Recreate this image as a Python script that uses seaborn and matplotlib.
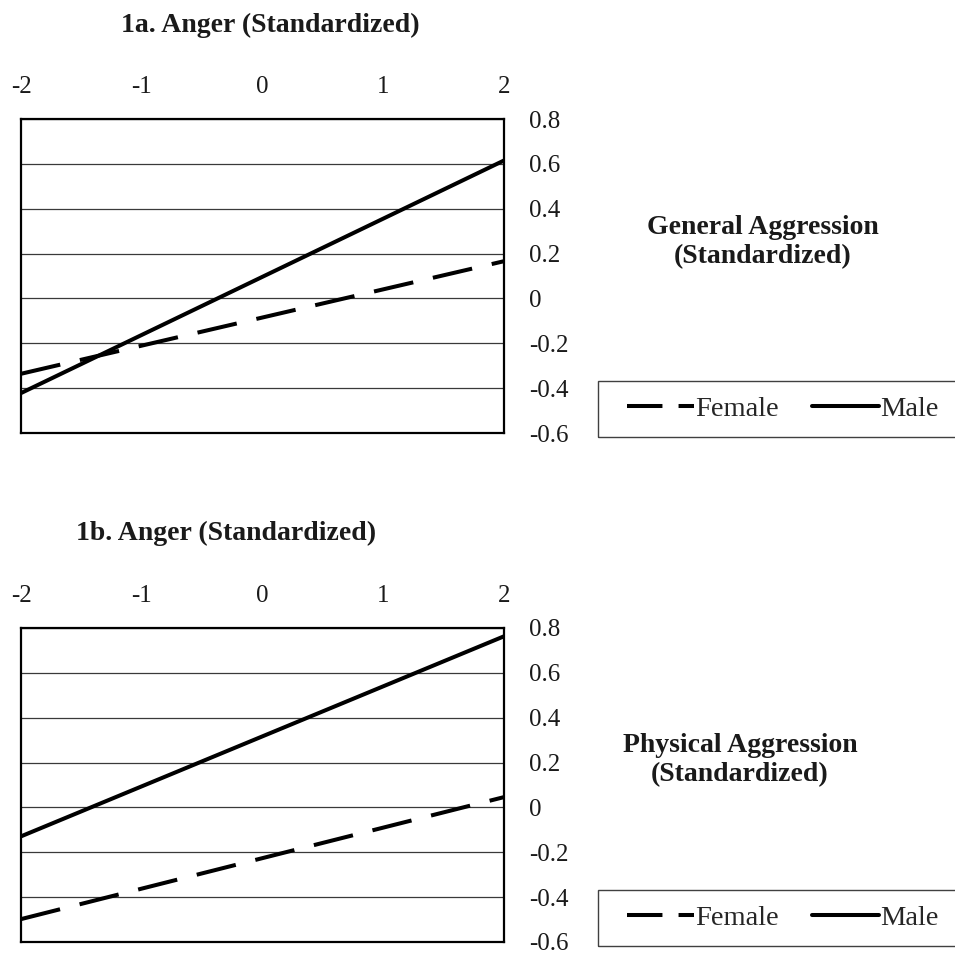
import matplotlib
matplotlib.use("Agg")
import matplotlib.pyplot as plt
from matplotlib.lines import Line2D
from matplotlib.patches import Rectangle
import seaborn as sns
import pandas as pd

# values
anger = [-2, 2]
female_general = [-0.336, 0.166]
male_general = [-0.422, 0.615]
female_physical = [-0.498, 0.046]
male_physical = [-0.129, 0.763]

x_ticks = [-2, -1, 0, 1, 2]
y_ticks = [-0.6, -0.4, -0.2, 0, 0.2, 0.4, 0.6, 0.8]
y_labels = ["-0.6", "-0.4", "-0.2", "0", "0.2", "0.4", "0.6", "0.8"]

titles = ["1a. Anger (Standardized)", "1b. Anger (Standardized)"]
outcomes = ["General Aggression\n(Standardized)", "Physical Aggression\n(Standardized)"]

sns.set_theme(style="white")
plt.rcParams["font.family"] = ["Liberation Serif", "DejaVu Serif"]
plt.rcParams["axes.unicode_minus"] = False

W, H = 955, 957
fig = plt.figure(figsize=(W / 100, H / 100), dpi=100)

panels = [
    dict(female=female_general, male=male_general, top=119, title_xy=(270, 25), lab_xy=(763, 242), leg_top=381),
    dict(female=female_physical, male=male_physical, top=628, title_xy=(226, 533), lab_xy=(740, 760), leg_top=890),
]

dash = (10, 5)
lw = 2.9

for p, title, outcome in zip(panels, titles, outcomes):
    ax = fig.add_axes([21 / W, 1 - (p["top"] + 314) / H, 483 / W, 314 / H])
    df = pd.DataFrame({
        "Anger": anger * 2,
        "Aggression": p["female"] + p["male"],
        "Sex": ["Female"] * 2 + ["Male"] * 2,
    })
    sns.lineplot(data=df, x="Anger", y="Aggression", hue="Sex", style="Sex",
                 palette={"Female": "black", "Male": "black"},
                 dashes={"Female": dash, "Male": ""}, linewidth=lw,
                 legend=False, ax=ax)
    ax.set_xlim(-2, 2)
    ax.set_ylim(-0.6, 0.8)
    ax.set_xticks(x_ticks)
    ax.set_xticklabels([str(t) for t in x_ticks])
    ax.set_yticks(y_ticks)
    ax.set_yticklabels(y_labels)
    ax.xaxis.tick_top()
    ax.yaxis.tick_right()
    ax.tick_params(axis="x", length=0, pad=15, labelsize=18, labelcolor="#1a1a1a")
    ax.tick_params(axis="y", length=0, pad=18, labelsize=18, labelcolor="#1a1a1a")
    ax.set_xlabel("")
    ax.set_ylabel("")
    ax.yaxis.grid(True, color="#3a3a3a", linewidth=0.9)
    ax.xaxis.grid(False)
    for s in ax.spines.values():
        s.set_color("black")
        s.set_linewidth(1.6)
        s.set_zorder(5)

    tx, ty = p["title_xy"]
    fig.text(tx / W, 1 - ty / H, title, ha="center", va="center",
             fontsize=20, fontweight="bold", color="#1a1a1a")
    lx, ly = p["lab_xy"]
    fig.text(lx / W, 1 - ly / H, outcome, ha="center", va="center",
             fontsize=20, fontweight="bold", color="#1a1a1a", linespacing=1.2)

    # legend frame runs off the right edge of the image
    lt = p["leg_top"]
    fig.patches.append(Rectangle((598 / W, 1 - (lt + 56) / H), 400 / W, 56 / H,
                                 transform=fig.transFigure, fill=False,
                                 edgecolor="#404040", linewidth=1.0))
    handles = [
        Line2D([], [], color="black", linewidth=lw, dashes=(8.8, 4)),
        Line2D([], [], color="black", linewidth=lw),
    ]
    fig.legend(handles, ["Female", "Male"], loc="center left",
               bbox_to_anchor=(627 / W, 1 - (lt + 28) / H), ncol=2,
               frameon=False, fontsize=20.5, handlelength=2.35,
               handletextpad=0.05, columnspacing=1.15, borderpad=0,
               borderaxespad=0)

fig.savefig("out.png", dpi=100)
